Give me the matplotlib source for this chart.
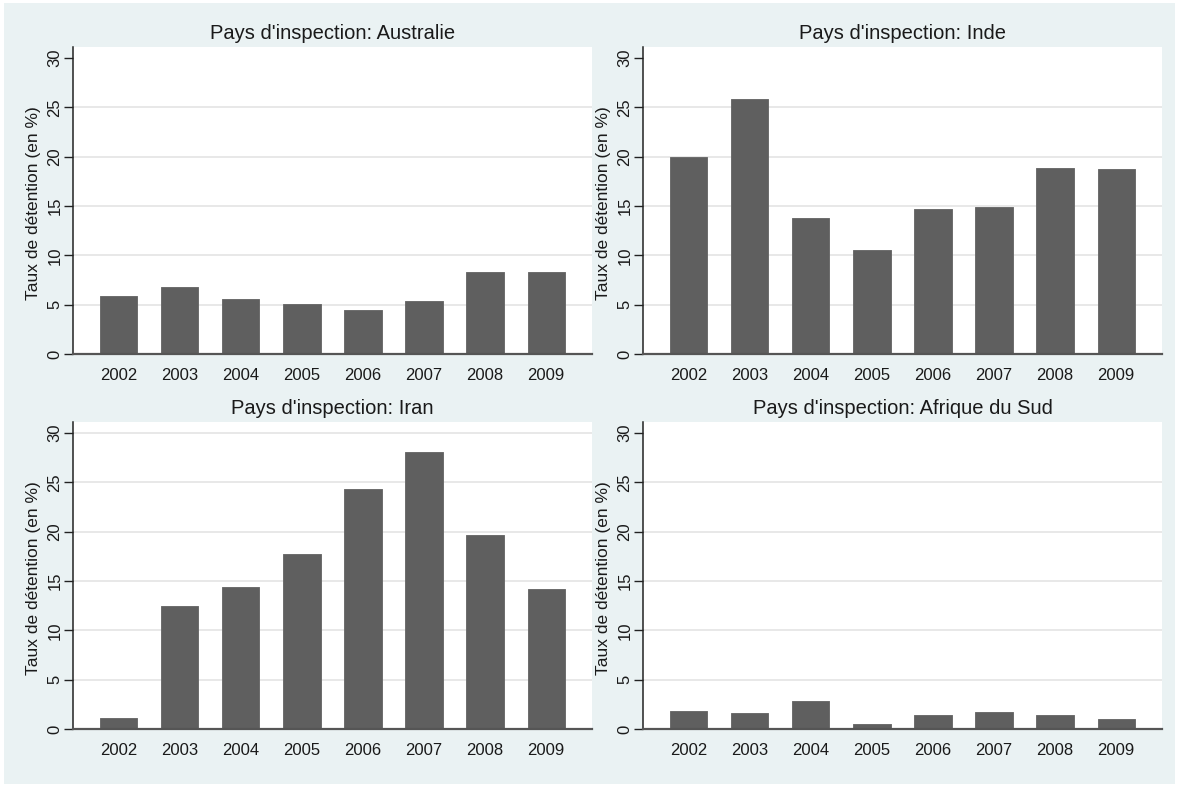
import matplotlib
matplotlib.use("Agg")
import matplotlib.pyplot as plt
from matplotlib.patches import Rectangle
from matplotlib.transforms import ScaledTranslation

plt.rcParams['font.family'] = ['Liberation Sans', 'DejaVu Sans']

years = ["2002", "2003", "2004", "2005", "2006", "2007", "2008", "2009"]
titles = ["Pays d'inspection: Australie", "Pays d'inspection: Inde",
          "Pays d'inspection: Iran", "Pays d'inspection: Afrique du Sud"]
australie = [5.9, 6.8, 5.6, 5.1, 4.5, 5.4, 8.3, 8.3]
inde = [20.0, 25.8, 13.8, 10.5, 14.7, 14.9, 18.9, 18.8]
iran = [1.15, 12.45, 14.4, 17.7, 24.3, 28.05, 19.65, 14.15]
afrique_du_sud = [1.8, 1.6, 2.85, 0.5, 1.45, 1.7, 1.4, 1.0]
series = [australie, inde, iran, afrique_du_sud]
show_top_grid = [False, False, True, False]
ylabel = "Taux de détention (en %)"
yticks = [0, 5, 10, 15, 20, 25, 30]

W, H = 1179, 787
fig = plt.figure(figsize=(W / 100, H / 100), dpi=100)
fig.patch.set_facecolor('white')
fig.patches.append(Rectangle((4 / W, 3 / H), (W - 8) / W, (H - 6) / H,
                             transform=fig.transFigure, facecolor='#EAF2F3',
                             edgecolor='none', zorder=-10))

lefts = [72.7, 642.7, 72.7, 642.7]
bottoms_px = [354.0, 354.0, 729.0, 729.0]
aw, ah = 519.5, 307.3
ymax = 30 + 11.3 / 9.867

for i in range(4):
    ax = fig.add_axes([lefts[i] / W, (H - bottoms_px[i]) / H, aw / W, ah / H])
    ax.set_facecolor('white')
    x = list(range(len(years)))
    ax.bar(x, series[i], width=0.61, color='#5f5f5f', edgecolor='#6c6c6c',
           linewidth=0.7, zorder=3)
    ax.set_xlim(-0.754, 7.754)
    ax.set_ylim(0, ymax)
    ax.set_xticks(x)
    ax.set_xticklabels(years, fontsize=12, color='#1a1a1a')
    ax.set_yticks(yticks)
    ax.set_yticklabels([str(v) for v in yticks], fontsize=12, color='#1a1a1a',
                       rotation=90, va='center')
    ax.tick_params(axis='x', length=0, pad=10)
    ax.tick_params(axis='y', length=6.5, width=1, color='#222222', pad=1)
    ax.yaxis.grid(True, color='#E6E6E6', linewidth=1.3, zorder=0)
    ax.set_axisbelow(True)
    gl = ax.yaxis.get_gridlines()
    gl[0].set_visible(False)
    if not show_top_grid[i]:
        gl[-1].set_visible(False)
    for s in ['top', 'right']:
        ax.spines[s].set_visible(False)
    ax.spines['left'].set_color('#222222')
    ax.spines['left'].set_linewidth(1.1)
    ax.spines['bottom'].set_color('#555555')
    ax.spines['bottom'].set_linewidth(1.6)
    ax.spines['bottom'].set_zorder(4)
    ax.text(0.5, 1.0, titles[i], fontsize=14.5, color='#1a1a1a', ha='center',
            va='center',
            transform=ax.transAxes + ScaledTranslation(0, 13.5 / 100, fig.dpi_scale_trans))
    ax.text(0.0, 0.49, ylabel, fontsize=12.5, color='#1a1a1a', rotation=90,
            ha='center', va='center',
            transform=ax.transAxes + ScaledTranslation(-39 / 100, 0, fig.dpi_scale_trans))

fig.savefig("out.png", dpi=100, facecolor=fig.get_facecolor())
